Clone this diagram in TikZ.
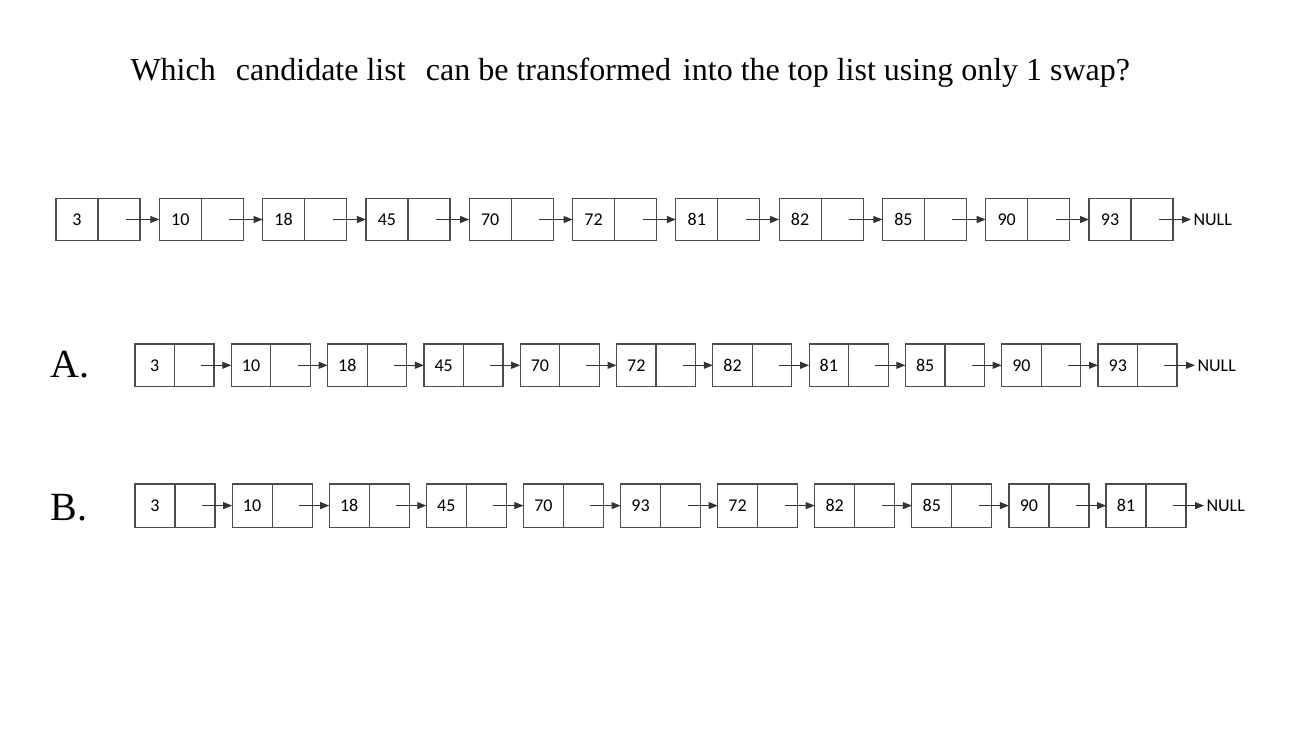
\documentclass[tikz,border=0pt]{standalone}
\usepackage{fontspec}
\setmainfont{Liberation Serif}
\newfontfamily\cellfont{Carlito}
\usetikzlibrary{positioning}
\usetikzlibrary{arrows.meta}
\tikzset{
	data cell/.style={rectangle,draw=black!70,line width=1.2pt,inner sep=0pt,outer sep=0pt,
		text height=12pt,text depth=0pt,font=\cellfont\fontsize{18}{18}\selectfont},
	ptr cell/.style={data cell},
	null label/.style={inner sep=2pt,text height=12pt,text depth=0pt,font=\cellfont\fontsize{18}{18}\selectfont},
	choice/.style={anchor=base west,inner sep=0pt,font=\fontsize{40}{40}\selectfont}
}
% #1 name, #2 left x, #3 centre y, #4 cell width, #5 cell height, #6 pitch, #7 values
\newcommand{\listrow}[7]{%
	\foreach \v [count=\i, remember=\i as \last (initially 0)] in {#7} {
		\node [data cell,minimum width=#4pt,minimum height=#5pt] (#1d\i) at ({#2+#4/2+(\i-1)*#6},#3) {\v};
		\node [ptr cell,minimum width=#4pt,minimum height=#5pt,right=0pt of #1d\i] (#1p\i) {};
		\ifnum\i>1 \draw ([xshift=7pt]#1p\last.center) -- (#1d\i.west);\fi
	}
	\node [null label,right=18pt of #1p11] (#1null) {NULL};
	\draw ([xshift=7pt]#1p11.center) -- (#1null);
}

\begin{document}
\begin{tikzpicture}[x=1pt,y=-1pt,->,>={Triangle[length=9pt,width=7pt]},line width=1pt,draw=black!80]
	\useasboundingbox (0,0) rectangle (1300,731);
	\node [anchor=base west,inner sep=0pt,font=\fontsize{32}{32}\selectfont] (title) at (130,80.7)
		{Which\hspace{0.38em} candidate list\hspace{0.38em} can be transformed\hspace{0.12em} into the top list using only 1 swap?};
	% top list
	\listrow{t}{56}{219.5}{42}{42.7}{103.3}{3,10,18,45,70,72,81,82,85,90,93}
	% candidate A
	\node [choice] (labA) at (50,377) {A.};
	\listrow{a}{135}{365.3}{39.5}{42.7}{96.3}{3,10,18,45,70,72,82,81,85,90,93}
	% candidate B
	\node [choice] (labB) at (50,520) {B.};
	\listrow{b}{135}{505.6}{40}{43.3}{97.1}{3,10,18,45,70,93,72,82,85,90,81}
\end{tikzpicture}
\end{document}
